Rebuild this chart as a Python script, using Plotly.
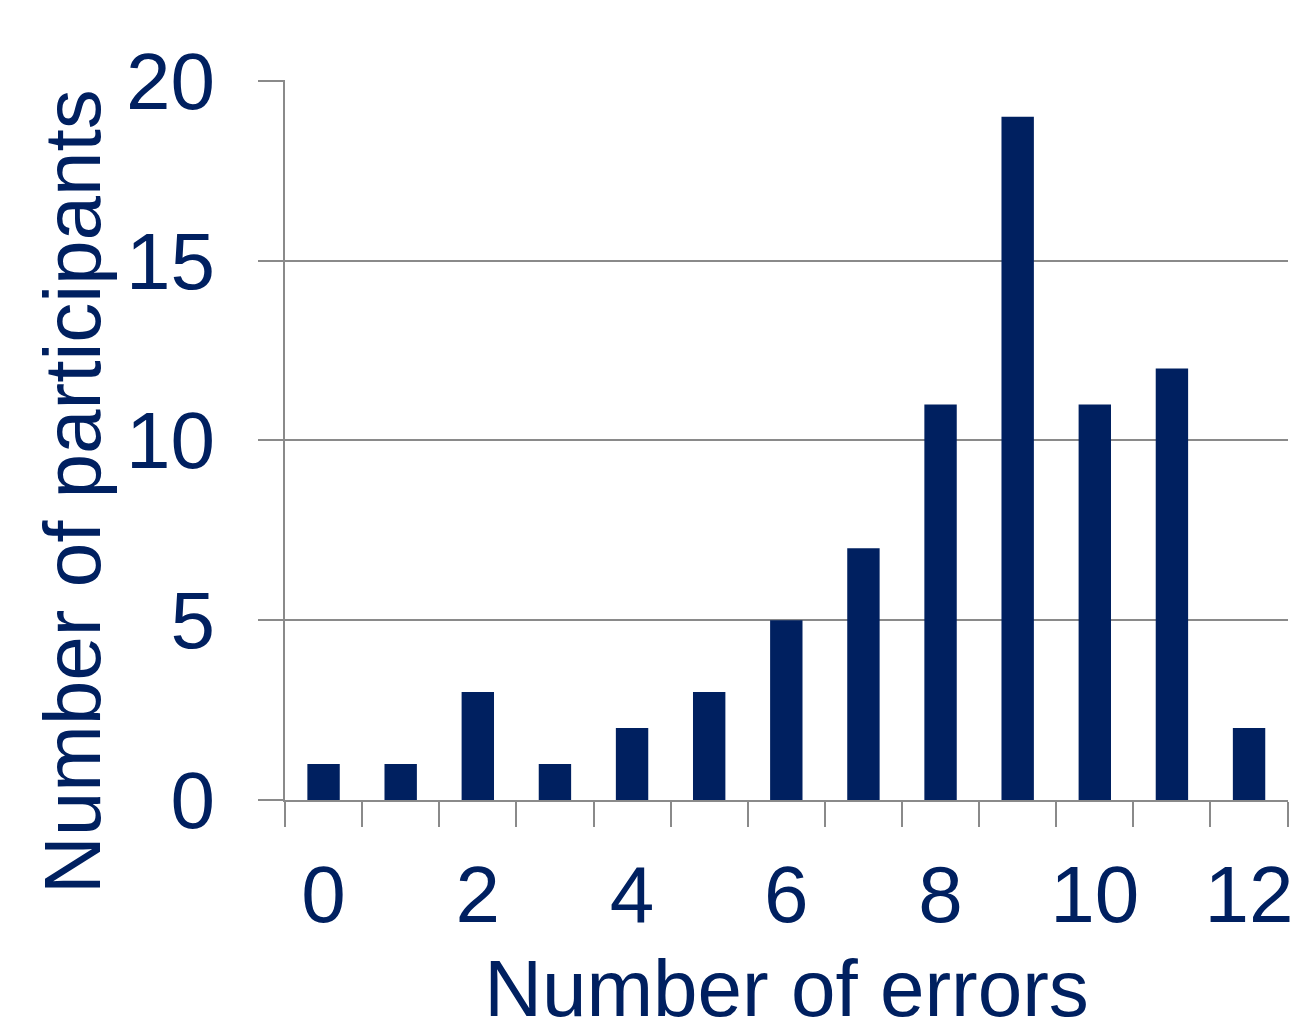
import plotly.graph_objects as go

errors = list(range(13))
participants = [1, 1, 3, 1, 2, 3, 5, 7, 11, 19, 11, 12, 2]
x_tick_labels = ["0", "2", "4", "6", "8", "10", "12"]
y_ticks = [0, 5, 10, 15, 20]

navy = "#002060"
grey = "#8a8a8a"
font = "Liberation Sans, Arial, sans-serif"

fig = go.Figure()
fig.add_trace(go.Bar(x=errors, y=participants, marker=dict(color=navy, line=dict(width=0)),
                     width=0.42, showlegend=False))

fig.update_layout(
    width=1294, height=1033,
    margin=dict(l=285, r=6, t=80, b=233),
    paper_bgcolor="white", plot_bgcolor="white",
    font=dict(family=font, color=navy, size=80),
    xaxis=dict(
        range=[-0.5, 12.505],
        automargin=False,
        tickmode="array",
        tickvals=[int(v) for v in x_tick_labels],
        ticktext=x_tick_labels,
        ticks="", showgrid=False,
        showline=True, linecolor=grey, linewidth=2,
        zeroline=False,
        tickfont=dict(size=80, color=navy),
        ticklabelstandoff=24,
        minor=dict(tickmode="array", tickvals=[v - 0.5 for v in range(14)],
                   ticks="outside", ticklen=25, tickcolor=grey, tickwidth=2, showgrid=False),
        title=dict(text="Number of errors", font=dict(size=80, color=navy), standoff=46),
    ),
    yaxis=dict(
        range=[0, 20.02],
        automargin=False,
        tickmode="array", tickvals=y_ticks,
        ticks="outside", ticklen=25, tickcolor=grey, tickwidth=2,
        showgrid=True, gridcolor=grey, gridwidth=2,
        showline=True, linecolor=grey, linewidth=2,
        zeroline=False,
        tickfont=dict(size=80, color=navy),
        ticklabelstandoff=27,
    ),
    annotations=[dict(
        text="Number of participants", textangle=-90,
        xref="paper", yref="paper", x=-0.2124, y=0.429,
        xanchor="center", yanchor="middle", showarrow=False,
        font=dict(size=80, color=navy, family=font),
    )],
)

fig.write_html("out.html",
               config={"displayModeBar": False},
               post_script="document.body.style.margin='0';document.body.style.overflow='hidden';")
